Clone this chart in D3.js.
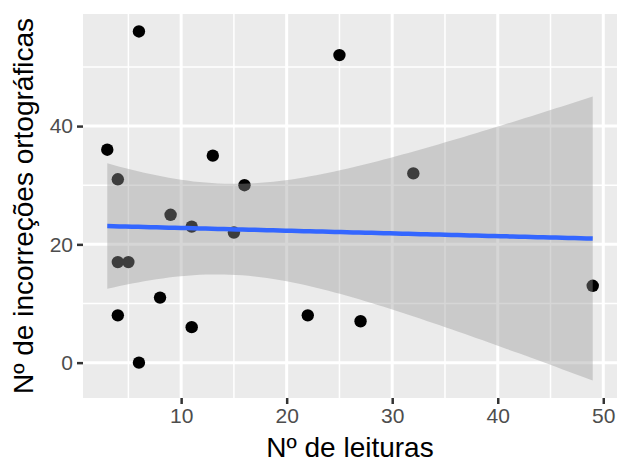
<!DOCTYPE html>
<html>
<head>
<meta charset="utf-8">
<script src="https://cdn.jsdelivr.net/npm/d3@7"></script>
<style>
  body { margin: 0; background: #fff; }
  text { font-family: "Liberation Sans", Arial, sans-serif; }
</style>
</head>
<body>
<div id="chart"></div>
<script>
var svgWidth = 618;
var svgHeight = 462;

// panel box in pixels
var panel = { left: 83, right: 617, top: 14, bottom: 398 };

// data
var leituras = [3, 4, 4, 5, 4, 6, 6, 8, 9, 11, 11, 13, 15, 16, 22, 25, 27, 32, 49];
var incorrecoes = [36, 31, 17, 17, 8, 56, 0, 11, 25, 23, 6, 35, 22, 30, 8, 52, 7, 32, 13];
var xTicks = [10, 20, 30, 40, 50];
var xMinor = [5, 15, 25, 35, 45];
var yTicks = [0, 20, 40];
var yMinor = [10, 30, 50];

var points = leituras.map((x, i) => ({ x: x, y: incorrecoes[i] }));

// linear model + 95% confidence band, as geom_smooth(method = "lm")
var n = points.length;
var mx = d3.mean(points, d => d.x);
var my = d3.mean(points, d => d.y);
var sxx = d3.sum(points, d => (d.x - mx) * (d.x - mx));
var sxy = d3.sum(points, d => (d.x - mx) * (d.y - my));
var slope = sxy / sxx;
var intercept = my - slope * mx;
var rss = d3.sum(points, d => Math.pow(d.y - (intercept + slope * d.x), 2));
var sigma = Math.sqrt(rss / (n - 2));
var tq = 2.109816; // qt(0.975, 17)

var xExt = d3.extent(leituras);
var band = d3.range(80).map(function(i) {
  var x = xExt[0] + (xExt[1] - xExt[0]) * i / 79;
  var fit = intercept + slope * x;
  var se = sigma * Math.sqrt(1 / n + (x - mx) * (x - mx) / sxx);
  return { x: x, fit: fit, lo: fit - tq * se, hi: fit + tq * se };
});

// ggplot style 5% expansion
function expand(ext) {
  var pad = (ext[1] - ext[0]) * 0.05;
  return [ext[0] - pad, ext[1] + pad];
}
var yLo = Math.min(d3.min(incorrecoes), d3.min(band, d => d.lo));
var yHi = Math.max(d3.max(incorrecoes), d3.max(band, d => d.hi));

var xScale = d3.scaleLinear().domain(expand(xExt)).range([panel.left, panel.right]);
var yScale = d3.scaleLinear().domain(expand([yLo, yHi])).range([panel.bottom, panel.top]);

var svg = d3.select("#chart")
  .append("svg")
  .attr("width", svgWidth)
  .attr("height", svgHeight);

// panel background
svg.append("rect")
  .attr("x", panel.left)
  .attr("y", panel.top)
  .attr("width", panel.right - panel.left)
  .attr("height", panel.bottom - panel.top)
  .attr("fill", "#EBEBEB");

// grid lines
var grid = svg.append("g");
grid.selectAll(".xminor").data(xMinor).enter().append("line")
  .attr("x1", d => xScale(d)).attr("x2", d => xScale(d))
  .attr("y1", panel.top).attr("y2", panel.bottom)
  .attr("stroke", "#fff").attr("stroke-width", 1.5);
grid.selectAll(".yminor").data(yMinor).enter().append("line")
  .attr("y1", d => yScale(d)).attr("y2", d => yScale(d))
  .attr("x1", panel.left).attr("x2", panel.right)
  .attr("stroke", "#fff").attr("stroke-width", 1.5);
grid.selectAll(".xmajor").data(xTicks).enter().append("line")
  .attr("x1", d => xScale(d)).attr("x2", d => xScale(d))
  .attr("y1", panel.top).attr("y2", panel.bottom)
  .attr("stroke", "#fff").attr("stroke-width", 3);
grid.selectAll(".ymajor").data(yTicks).enter().append("line")
  .attr("y1", d => yScale(d)).attr("y2", d => yScale(d))
  .attr("x1", panel.left).attr("x2", panel.right)
  .attr("stroke", "#fff").attr("stroke-width", 3);

// points
svg.append("g").selectAll("circle")
  .data(points)
  .enter()
  .append("circle")
  .attr("cx", d => xScale(d.x))
  .attr("cy", d => yScale(d.y))
  .attr("r", 6.2)
  .attr("fill", "#000");

// confidence ribbon
svg.append("path")
  .datum(band)
  .attr("d", d3.area().x(d => xScale(d.x)).y0(d => yScale(d.lo)).y1(d => yScale(d.hi)))
  .attr("fill", "#999999")
  .attr("fill-opacity", 0.4);

// fitted line
svg.append("path")
  .datum(band)
  .attr("d", d3.line().x(d => xScale(d.x)).y(d => yScale(d.fit)))
  .attr("fill", "none")
  .attr("stroke", "#3366FF")
  .attr("stroke-width", 4.5);

// axes
var bottomAxis = d3.axisBottom(xScale).tickValues(xTicks).tickSize(6).tickPadding(4);
var leftAxis = d3.axisLeft(yScale).tickValues(yTicks).tickSize(6).tickPadding(4);

var xAxis = svg.append("g")
  .attr("transform", `translate(0, ${panel.bottom})`)
  .call(bottomAxis);
var yAxis = svg.append("g")
  .attr("transform", `translate(${panel.left}, 0)`)
  .call(leftAxis);

[xAxis, yAxis].forEach(function(ax) {
  ax.select(".domain").remove();
  ax.selectAll(".tick line").attr("stroke", "#333333").attr("stroke-width", 2.5);
  ax.selectAll(".tick text")
    .attr("fill", "#4D4D4D")
    .attr("font-size", 21)
    .style("font-family", "'Liberation Sans', Arial, sans-serif");
});

// axis titles
svg.append("text")
  .attr("x", (panel.left + panel.right) / 2)
  .attr("y", 457)
  .attr("text-anchor", "middle")
  .attr("font-size", 28)
  .attr("fill", "#000")
  .text("Nº de leituras");

svg.append("text")
  .attr("transform", `translate(33, ${(panel.top + panel.bottom) / 2}) rotate(-90)`)
  .attr("text-anchor", "middle")
  .attr("font-size", 28)
  .attr("fill", "#000")
  .text("Nº de incorreções ortográficas");
</script>
</body>
</html>
